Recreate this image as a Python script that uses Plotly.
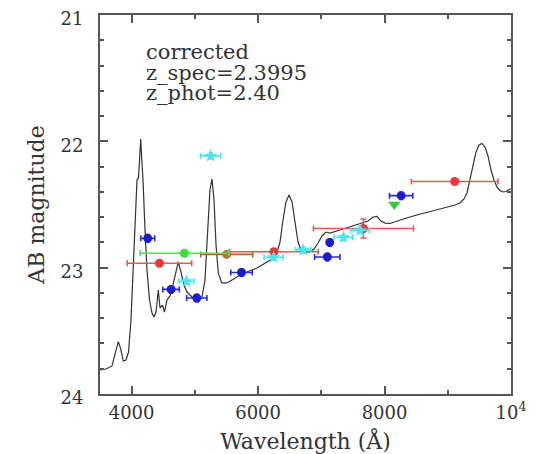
import plotly.graph_objects as go

# Model spectrum (wavelength in Angstrom, AB magnitude)
spec_wl = [3500, 3595, 3690, 3737, 3789, 3824, 3868, 3911, 3951, 3990, 4030, 4061, 4085, 4109,
           4128, 4144, 4161, 4180, 4212, 4243, 4283, 4322, 4354, 4386, 4422, 4449, 4488, 4520,
           4560, 4607, 4654, 4702, 4738, 4781, 4828, 4876, 4955, 5034, 5113, 5160, 5200, 5239,
           5271, 5303, 5335, 5371, 5425, 5504, 5588, 5667, 5738, 5825, 5904, 5983, 6062, 6141,
           6220, 6294, 6347, 6394, 6442, 6489, 6537, 6584, 6632, 6679, 6742, 6821, 6884, 6948,
           7011, 7074, 7137, 7296, 7454, 7612, 7739, 7818, 7881, 7944, 8007, 8086, 8165, 8323,
           8482, 8640, 8798, 8956, 9115, 9193, 9257, 9304, 9352, 9399, 9447, 9494, 9541, 9589,
           9636, 9684, 9731, 9779, 9826, 9874, 9921, 9969, 10000]
spec_mag = [23.810, 23.802, 23.778, 23.691, 23.586, 23.636, 23.739, 23.731, 23.668, 23.414, 22.939,
            22.464, 22.306, 22.290, 22.069, 21.982, 22.148, 22.306, 22.702, 23.019, 23.256, 23.359,
            23.391, 23.351, 23.177, 23.319, 23.296, 23.351, 23.256, 23.224, 23.137, 23.019, 22.955,
            23.034, 23.137, 23.193, 23.232, 23.248, 23.232, 23.098, 22.702, 22.385, 22.298, 22.464,
            22.821, 23.042, 23.121, 23.121, 23.098, 23.074, 23.050, 23.034, 23.019, 23.003, 22.979,
            22.955, 22.932, 22.884, 22.797, 22.623, 22.480, 22.425, 22.480, 22.639, 22.797, 22.860,
            22.876, 22.876, 22.852, 22.805, 22.749, 22.718, 22.726, 22.702, 22.678, 22.654, 22.631,
            22.599, 22.595, 22.631, 22.647, 22.650, 22.639, 22.611, 22.587, 22.567, 22.544, 22.524,
            22.504, 22.488, 22.456, 22.409, 22.306, 22.187, 22.084, 22.029, 22.017, 22.045, 22.116,
            22.227, 22.306, 22.362, 22.389, 22.401, 22.397, 22.381, 22.377]

# Broad-band photometry (red)
red_wl = [4440, 6250, 7666, 9110]
red_mag = [22.965, 22.874, 22.690, 22.318]
red_xerr = [510, 700, 790, 685]
red_yerr = [0.0, 0.0, 0.075, 0.0]

# Brown point
brown_wl = [5504]
brown_mag = [22.895]
brown_xerr = [411]

# Green points
green_wl = [4835]
green_mag = [22.886]
green_xerr = [700]
green_tri_wl = [8154]
green_tri_mag = [22.50]

# Blue medium-band points
blue_wl = [4255, 4624, 5031, 5738, 7133, 7095, 8263]
blue_mag = [22.768, 23.172, 23.240, 23.038, 22.800, 22.915, 22.430]
blue_xerr = [110, 130, 160, 170, 0, 200, 185]

# Cyan points
cyan_wl = [5249, 4868, 6245, 6715, 7350, 7612]
cyan_mag = [22.115, 23.108, 22.918, 22.860, 22.760, 22.705]
cyan_xerr = [160, 120, 150, 120, 150, 150]

# Axis ticks
x_tickvals = [4000, 6000, 8000, 10000]
x_ticktext = ["4000", "6000", "8000", "10<sup>4</sup>"]
y_tickvals = [21, 22, 23, 24]

# Annotation text
labels = ["corrected", "z_spec=2.3995", "z_phot=2.40"]

SERIF = "DejaVu Serif"
AXC = "#555555"
TXC = "#333333"

fig = go.Figure()

fig.add_trace(go.Scatter(x=spec_wl, y=spec_mag, mode="lines",
                         line=dict(color="#333333", width=1.2), hoverinfo="skip"))

fig.add_trace(go.Scatter(x=red_wl, y=red_mag, mode="markers",
                         marker=dict(color="#e8383a", size=9, symbol="circle"),
                         error_x=dict(type="data", array=red_xerr, color="#ee5555", thickness=1.6, width=3),
                         error_y=dict(type="data", array=red_yerr, color="#ee5555", thickness=1.4, width=3)))

fig.add_trace(go.Scatter(x=brown_wl, y=brown_mag, mode="markers",
                         marker=dict(color="#b8732f", size=9, symbol="circle"),
                         error_x=dict(type="data", array=brown_xerr, color="#a8682e", thickness=1.6, width=3)))

fig.add_trace(go.Scatter(x=green_wl, y=green_mag, mode="markers",
                         marker=dict(color="#3ddc3d", size=9, symbol="circle"),
                         error_x=dict(type="data", array=green_xerr, color="#55dd55", thickness=1.6, width=3)))

fig.add_trace(go.Scatter(x=green_tri_wl, y=green_tri_mag, mode="markers",
                         marker=dict(color="#33cc33", size=11, symbol="triangle-down")))

fig.add_trace(go.Scatter(x=blue_wl, y=blue_mag, mode="markers",
                         marker=dict(color="#1d1dd0", size=9, symbol="circle"),
                         error_x=dict(type="data", array=blue_xerr, color="#2a2ad8", thickness=1.6, width=3),
                         error_y=dict(type="data", array=[0.03] * len(blue_wl), color="#2a2ad8", thickness=1.4, width=2)))

fig.add_trace(go.Scatter(x=cyan_wl, y=cyan_mag, mode="markers",
                         marker=dict(color="#4fe3ea", size=10, symbol="star"),
                         error_x=dict(type="data", array=cyan_xerr, color="#4fe3ea", thickness=1.6, width=3),
                         error_y=dict(type="data", array=[0.025] * len(cyan_wl), color="#4fe3ea", thickness=1.4, width=2)))

label_y = [0.903, 0.847, 0.794]
for txt, yy in zip(labels, label_y):
    fig.add_annotation(x=0.106, xref="paper", y=yy, yref="paper", text=txt, showarrow=False,
                       xanchor="left", yanchor="middle",
                       font=dict(family=SERIF, size=21, color=TXC))

fig.update_xaxes(range=[3500, 10000], autorange=False, automargin=False,
                 tickmode="array", tickvals=x_tickvals, ticktext=x_ticktext,
                 ticks="inside", ticklen=8, tickwidth=1.5, tickcolor=AXC,
                 minor=dict(dtick=1000, tick0=3000, ticks="inside", ticklen=4, tickwidth=1.5, tickcolor=AXC),
                 showline=True, linecolor=AXC, linewidth=2, mirror="ticks",
                 showgrid=False, zeroline=False, ticklabelstandoff=1, ticklabeloverflow="allow",
                 tickfont=dict(family=SERIF, size=18, color=TXC),
                 title=dict(text="Wavelength (Å)", font=dict(family=SERIF, size=22, color=TXC),
                            standoff=12))

fig.update_yaxes(range=[24, 21], autorange=False, automargin=False,
                 tickmode="array", tickvals=y_tickvals, ticktext=[str(v) for v in y_tickvals],
                 ticks="inside", ticklen=8, tickwidth=1.5, tickcolor=AXC,
                 minor=dict(dtick=0.2, tick0=21, ticks="inside", ticklen=4, tickwidth=1.5, tickcolor=AXC),
                 showline=True, linecolor=AXC, linewidth=2, mirror="ticks",
                 showgrid=False, zeroline=False, ticklabelstandoff=11, ticklabelshift=-4,
                 ticklabeloverflow="allow",
                 tickfont=dict(family=SERIF, size=18, color=TXC),
                 title=dict(text="AB magnitude", font=dict(family=SERIF, size=22, color=TXC),
                            standoff=10))

# page body adds an 8px offset, so the figure is sized to fit the remaining window
fig.update_layout(width=530, height=446, showlegend=False,
                  margin=dict(l=92, r=27, t=7, b=60),
                  paper_bgcolor="white", plot_bgcolor="white")

fig.write_html("out.html")
